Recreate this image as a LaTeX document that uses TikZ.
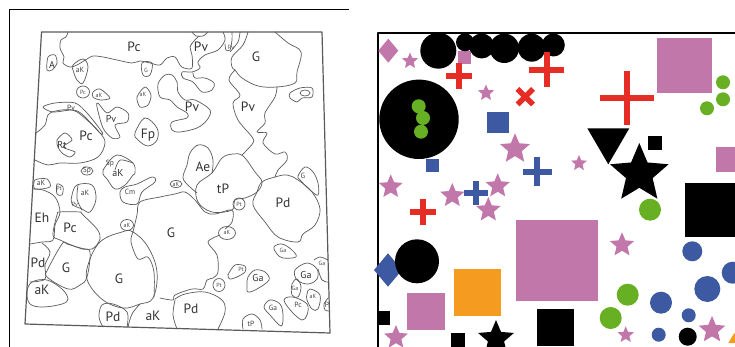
\documentclass[tikz,border=0pt]{standalone}
\usepackage{fontspec}
\setmainfont{PT Sans}
\usetikzlibrary{shapes.geometric}
\definecolor{pinkish}{HTML}{C277AB}
\definecolor{redcross}{HTML}{E52D25}
\definecolor{bluish}{HTML}{3D59A2}
\definecolor{greenish}{HTML}{68B023}
\definecolor{orangish}{HTML}{F59B1F}
\definecolor{mapline}{HTML}{5A5A5A}
\tikzset{
  every picture/.style={line join=round, line cap=round},
  outline/.style={draw=mapline, line width=0.7pt},
  mapframe/.style={draw=mapline, line width=1.2pt, line cap=butt},
  biglabel/.style={font=\fontsize{13.5}{14}\selectfont, text=black!80, inner sep=0pt},
  midlabel/.style={font=\fontsize{10}{11}\selectfont, text=black!80, inner sep=0pt},
  smalllabel/.style={font=\fontsize{7.5}{8}\selectfont, text=black!75, inner sep=0pt},
  tinylabel/.style={font=\fontsize{6}{7}\selectfont, text=black!70, inner sep=0pt},
  pinkstar/.style={star, star points=5, star point ratio=2.2, fill=pinkish, inner sep=0pt, outer sep=0pt},
  blackstar/.style={star, star points=5, star point ratio=2.2, fill=black, inner sep=0pt, outer sep=0pt},
  redbar/.style={draw=redcross, line width=6pt, line cap=butt},
  bluebar/.style={draw=bluish, line width=6pt, line cap=butt},
}
\begin{document}
\begin{tikzpicture}[x=1pt,y=-1pt]
\useasboundingbox (0,0) rectangle (735,347);
\draw[black,line width=1pt,line cap=butt](349,9.3)--(9.3,9.3)--(9.3,347);
\draw[mapframe](41.5,32)--(322,32)--(330,333)--(25,324)--cycle;
\draw[outline] plot[smooth,tension=0.55] coordinates {(68,32)(66,37)(61,40)(60,48)(64,57)(63,63)(70,67)(77,65)(87,59)(93,56)(103,57)(117,60)(132,63)(140,61)(150,63)(160,65)(167,58)(175,57)(180,65)(184,68)(192,68)(192,55)(190,47)(194,41)(199,36)};
\draw[outline] plot[smooth] coordinates {(192,32)(196,36)(203,36)(208,32)};
\draw[outline] plot[smooth,tension=0.55] coordinates {(223,32)(225,40)(218,50)(205,55)(198,62)(200,68)(192,72)(182,72)(183,78)(193,82)(202,92)(212,90)(214,83)(205,78)(195,78)(193,73)};
\draw[outline] plot[smooth] coordinates {(232,32)(232,40)(230,50)(226,50)(225,44)};
\draw[outline] plot[smooth] coordinates {(240,32)(238,42)(230,52)};
\draw[outline] plot[smooth,tension=0.6] coordinates {(248,32)(243,45)(232,57)(232,67)(235,70)(242,78)(258,86)(277,87)(295,83)(297,72)(301,52)(288,43)(275,32)};
\draw[outline] plot[smooth,tension=0.55] coordinates {(235,70)(229,80)(240,95)(233,103)(238,120)(252,137)(253,143)(242,155)};
\draw[outline] plot[smooth,tension=0.55] coordinates {(277,87)(275,97)(265,113)(265,123)(257,132)(267,133)(263,143)(275,154)(285,152)(287,160)(278,170)(275,177)};
\draw[outline] plot[smooth cycle,tension=0.6] coordinates {(212,173)(222,158)(233,154)(243,156)(255,172)(262,182)(257,192)(245,198)(235,200)(232,210)(212,212)(198,202)(197,185)};
\draw[outline] plot[smooth cycle,tension=0.6] coordinates {(257,192)(253,205)(265,222)(278,237)(298,242)(303,234)(315,225)(320,209)(312,192)(298,180)(287,175)(275,177)(262,182)};
\draw[outline] plot[smooth cycle,tension=0.6] coordinates {(298,176)(305,167)(313,172)(318,183)(318,195)(310,190)(300,180)};
\draw[outline] plot[smooth,tension=0.6] coordinates {(197,193)(190,187)(183,178)(187,165)(190,153)(198,145)(208,148)(213,160)(212,173)};
\draw[outline] plot[smooth,tension=0.55] coordinates {(133,232)(137,215)(140,202)(160,197)(175,194)(185,192)(195,200)(205,212)(215,214)(232,210)(232,222)(225,229)};
\draw[outline] plot[smooth,tension=0.55] coordinates {(220,235)(208,242)(217,255)(218,272)(213,278)(207,280)(203,289)(192,289)(175,295)(173,300)(160,298)};
\draw[outline] plot[smooth cycle,tension=0.65] coordinates {(133,232)(122,232)(100,242)(88,265)(88,282)(103,300)(123,308)(140,304)(153,298)(157,272)(148,247)};
\draw[outline] plot[smooth,tension=0.55] coordinates {(133,232)(131,242)(138,259)(148,257)(154,272)(154,297)};
\draw[outline] plot[smooth cycle,tension=0.6] coordinates {(67,244)(62,244)(48,269)(47,277)(68,289)(80,285)(87,277)(90,252)(82,249)};
\draw[outline] plot[smooth cycle,tension=0.55] coordinates {(57,215)(53,235)(60,240)(77,247)(92,249)(100,239)(97,229)(82,214)(80,212)(60,212)};
\draw[outline] plot[smooth,tension=0.6] coordinates {(33,189)(43,190)(55,197)(60,212)(55,225)(53,240)(42,242)(30,244)};
\draw[outline] plot[smooth,tension=0.6] coordinates {(42,243)(50,252)(45,265)(45,279)(30,282)};
\draw[outline] plot[smooth cycle,tension=0.6] coordinates {(32,282)(47,280)(62,289)(68,299)(62,304)(43,307)(30,304)(27,292)};
\draw[outline] plot[smooth,tension=0.6] coordinates {(127,327)(127,312)(113,304)(102,305)(99,317)(103,327)};
\draw[outline] plot[smooth,tension=0.6] coordinates {(128,327)(132,314)(140,304)};
\draw[outline] plot[smooth,tension=0.6] coordinates {(177,329)(173,315)(175,300)};
\draw[outline] plot[smooth,tension=0.6] coordinates {(175,299)(185,294)(205,292)(222,300)(225,312)(218,329)};
\draw[outline] plot[smooth cycle] coordinates {(35,180)(47,179)(50,187)(35,189)};
\draw[outline] plot[smooth cycle] coordinates {(57,184)(63,187)(62,195)(57,194)};
\draw[outline] plot[smooth cycle,tension=0.6] coordinates {(77,185)(92,185)(96,199)(90,212)(82,209)(72,204)(72,195)};
\draw[outline] plot[smooth] coordinates {(78,185)(77,199)(82,210)};
\draw[outline] plot[smooth cycle,tension=0.6] coordinates {(105,167)(117,155)(133,163)(135,173)(133,175)(125,185)(115,189)(107,179)(103,174)};
\draw[outline] plot[smooth] coordinates {(115,170)(120,160)(133,163)};
\draw[outline] plot[smooth cycle,tension=0.6] coordinates {(125,187)(120,192)(123,202)(137,204)(142,192)(155,182)(152,177)(137,184)};
\draw[outline] (176,184) ellipse (6 and 3.5);
\draw[outline] (127,225) ellipse (6.5 and 5.5);
\draw[outline] plot[smooth cycle] coordinates {(48,57)(55,55)(57,63)(52,70)(47,70)};
\draw[outline] plot[smooth cycle,tension=0.6] coordinates {(73,65)(83,59)(88,67)(83,83)(77,80)(73,70)};
\draw[outline] plot[smooth cycle,tension=0.6] coordinates {(142,63)(152,63)(150,75)(143,75)};
\draw[outline] (83,92) ellipse (6.5 and 6);
\draw[outline] plot[smooth cycle] coordinates {(93,92)(100,89)(110,98)(100,100)(93,97)};
\draw[outline] plot[smooth cycle] coordinates {(137,97)(145,87)(151,95)(148,105)(140,107)};
\draw[outline] plot[smooth cycle,tension=0.5] coordinates {(43,107)(55,103)(75,103)(87,113)(102,132)(100,133)(83,115)(73,110)(53,112)};
\draw[outline] plot[smooth cycle,tension=0.5] coordinates {(98,103)(107,113)(117,107)(128,113)(127,122)(115,125)(120,137)(112,138)(103,128)(97,107)};
\draw[outline] plot[smooth,tension=0.6] coordinates {(36,133)(45,125)(50,113)(72,110)(87,120)(100,133)(105,143)(98,157)(80,163)(60,163)(48,165)(35,160)};
\draw[outline] plot[smooth cycle] coordinates {(57,140)(65,133)(72,140)(63,147)(75,152)(70,157)(62,153)(58,147)};
\draw[outline] plot[smooth cycle,tension=0.6] coordinates {(135,133)(145,118)(157,128)(157,140)(148,146)(138,140)};
\draw[outline] plot[smooth cycle,tension=0.55] coordinates {(172,75)(165,75)(158,84)(160,97)(170,100)(177,107)(187,113)(187,118)(172,122)(172,130)(180,132)(197,128)(207,120)(210,110)(195,100)(185,100)(178,92)(177,82)};
\draw[outline] plot[smooth cycle] coordinates {(290,93)(300,88)(312,88)(312,97)(302,98)(297,102)(290,98)};
\draw[outline] (305,93) ellipse (5 and 3);
\draw[outline] (239,204) ellipse (6 and 6);
\draw[outline] (227,233) ellipse (8.5 and 6.5);
\draw[outline] plot[smooth cycle] coordinates {(228,275)(235,265)(245,266)(245,272)(237,277)(230,279)};
\draw[outline] (219,285) ellipse (6 and 6.5);
\draw[outline] plot[smooth cycle,tension=0.6] coordinates {(274,247)(282,244)(292,250)(296,257)(283,258)(277,254)};
\draw[outline] plot[smooth cycle,tension=0.6] coordinates {(248,277)(255,270)(265,272)(269,280)(257,289)(248,292)(247,285)};
\draw[outline] plot[smooth cycle,tension=0.6] coordinates {(295,270)(307,263)(317,269)(317,279)(308,284)(297,280)};
\draw[outline] plot[smooth,tension=0.6] coordinates {(314,260)(320,257)(328,260)};
\draw[outline] plot[smooth,tension=0.6] coordinates {(318,269)(322,280)(328,282)};
\draw[outline] plot[smooth cycle,tension=0.6] coordinates {(292,284)(297,279)(301,287)(298,297)(292,295)};
\draw[outline] plot[smooth cycle,tension=0.6] coordinates {(307,294)(310,289)(320,295)(318,309)(312,309)(307,300)};
\draw[outline] plot[smooth cycle,tension=0.6] coordinates {(284,300)(293,297)(307,304)(307,315)(302,320)(292,312)};
\draw[outline] plot[smooth cycle,tension=0.6] coordinates {(264,307)(270,300)(280,304)(283,315)(281,326)(270,315)};
\draw[outline] plot[smooth] coordinates {(328,298)(324,304)(325,310)(329,311)};
\draw[outline] plot[smooth,tension=0.6] coordinates {(243,329)(243,319)(252,314)(260,320)(262,329)};
\draw[outline] (87,171) ellipse (6 and 4);
\node[biglabel] (pc1) at (134,47) {Pc};
\node[biglabel] (pv1) at (201,47) {Pv};
\node[tinylabel] (pv2) at (231,47) {Pv};
\node[biglabel] (g1) at (256,57) {G};
\node[midlabel] (a1) at (52,65) {A};
\node[smalllabel] (ak1) at (80,70) {aK};
\node[tinylabel] (g2) at (146,70) {G};
\node[tinylabel] (pc2) at (83,92) {Pc};
\node[tinylabel] (ak2) at (99,95) {aK};
\node[tinylabel] (ak3) at (143,94) {aK};
\node[smalllabel] (pv3) at (71,108) {Pv};
\node[midlabel] (pv4) at (111,119) {Pv};
\node[biglabel] (pv5) at (192,107) {Pv};
\node[biglabel] (pv6) at (248,107) {Pv};
\node[biglabel] (fp1) at (148,135) {Fp};
\node[biglabel] (pc3) at (86,136) {Pc};
\node[midlabel] (rt1) at (62,145) {Rt};
\node[smalllabel] (sp1) at (87,171) {Sp};
\node[smalllabel] (sp2) at (110,164) {Sp};
\node[midlabel] (ak4) at (118,173) {aK};
\node[biglabel] (ae1) at (203,167) {Ae};
\node[biglabel] (tp1) at (223,189) {tP};
\node[smalllabel] (ak5) at (41,183) {aK};
\node[tinylabel] (pt1) at (59,188) {Pt};
\node[smalllabel] (ak6) at (85,193) {aK};
\node[tinylabel] (pv7) at (75,204) {Pv};
\node[smalllabel] (cm1) at (130,192) {Cm};
\node[tinylabel] (ak7) at (176,184) {aK};
\node[biglabel] (eh1) at (42,218) {Eh};
\node[biglabel] (pc4) at (70,228) {Pc};
\node[tinylabel] (ak8) at (127,225) {aK};
\node[biglabel] (g3) at (171,233) {G};
\node[tinylabel] (pt2) at (239,204) {Pt};
\node[biglabel] (pd1) at (283,203) {Pd};
\node[smalllabel] (g4) at (303,176) {G};
\node[tinylabel] (ak9) at (227,232) {aK};
\node[tinylabel] (ga1) at (283,250) {Ga};
\node[tinylabel] (pt3) at (241,269) {Pt};
\node[tinylabel] (pt4) at (219,285) {Pt};
\node[midlabel] (ga2) at (258,278) {Ga};
\node[midlabel] (ga3) at (306,275) {Ga};
\node[tinylabel] (ga4) at (322,263) {Ga};
\node[tinylabel] (ga5) at (295,288) {Ga};
\node[tinylabel] (ak10) at (313,296) {aK};
\node[smalllabel] (pc5) at (298,305) {Pc};
\node[smalllabel] (ga6) at (273,308) {Ga};
\node[smalllabel] (p1) at (327,305) {P};
\node[smalllabel] (tp2) at (251,324) {tP};
\node[biglabel] (pd2) at (38,263) {Pd};
\node[biglabel] (g5) at (66,268) {G};
\node[biglabel] (ak11) at (42,290) {aK};
\node[biglabel] (g6) at (119,279) {G};
\node[biglabel] (pd3) at (113,317) {Pd};
\node[biglabel] (ak12) at (153,316) {aK};
\node[biglabel] (pd4) at (191,309) {Pd};
\fill[pinkish](458,50.7) rectangle (471,64);
\draw[black,line width=2pt,line cap=butt](735,33.5)--(377.5,33.5)--(377.5,347);
\fill[pinkish](388.3,38.7)--(398.3,50.7)--(388.3,62.7)--(378.3,50.7)--cycle;
\node[pinkstar,minimum size=17pt] (star1) at (410,61) {};
\fill[black](438.3,50.7) circle(18);
\fill[black](465,42.3) circle(9);
\fill[black](481.7,46) circle(12.5);
\fill[black](504.3,48.3) circle(14.7);
\fill[black](531.7,47.7) circle(14);
\fill[black](553.3,45) circle(11.5);
\draw[redbar](446,76)--(472,76);
\draw[redbar](459,63)--(459,89);
\draw[redbar](529,70)--(564,70);
\draw[redbar](547,52)--(547,87);
\draw[redbar](600,98)--(654,98);
\draw[redbar](627,71)--(627,125);
\draw[redbar,line width=5.5pt](517.5,88.9)--(533,104.5);
\draw[redbar,line width=5.5pt](517.5,104.5)--(533,88.9);
\node[pinkstar,minimum size=17pt] (star2) at (486,93) {};
\fill[bluish](487,112) rectangle (509,133);
\fill[black](419,119.3) circle(39.7);
\fill[greenish](418.7,106.3) circle(7);
\fill[greenish](423,118) circle(7);
\fill[greenish](421,131.7) circle(7);
\fill[bluish](426,159) rectangle (439,172);
\node[pinkstar,minimum size=31.4pt] (star3) at (515,149) {};
\draw[bluebar](523,172)--(552,172);
\draw[bluebar](537,157)--(537,186);
\node[pinkstar,minimum size=25pt] (star4) at (390.7,186.8) {};
\node[pinkstar,minimum size=25.4pt] (star5) at (452.3,195.7) {};
\node[pinkstar,minimum size=25.4pt] (star6) at (497.7,186) {};
\node[pinkstar,minimum size=25.8pt] (star7) at (488.3,210) {};
\draw[bluebar](464,193)--(488,193);
\draw[bluebar](476,181)--(476,205);
\node[pinkstar,minimum size=16.6pt] (star8) at (579,163.3) {};
\draw[redbar](410,212)--(436,212);
\draw[redbar](423,199)--(423,225);
\fill[pinkish](516,220) rectangle (598,301);
\fill[bluish](388,253.3)--(402,270)--(388,286.7)--(374,270)--cycle;
\fill[black](417,261.3) circle(22);
\fill[pinkish](407,293) rectangle (445,330);
\fill[orangish](454,269) rectangle (501,316);
\fill[black](377,311) rectangle (390,325);
\node[pinkstar,minimum size=25pt] (star9) at (396,337.5) {};
\fill[black](451,333) rectangle (465,347);
\node[blackstar,minimum size=37.6pt] (star10) at (496,338.8) {};
\fill[black](537,309) rectangle (574,346);
\fill[pinkish](657,38) rectangle (712,93);
\fill[greenish](723,82.3) circle(7);
\fill[greenish](723,99.3) circle(7);
\fill[greenish](707,108.3) circle(7);
\fill[black](587.3,128.3)--(629.3,128.3)--(608.3,164.3)--cycle;
\fill[black](648,136) rectangle (662,150);
\node[blackstar,minimum size=61.6pt] (star11) at (639.3,173.8) {};
\fill[pinkish](716,147) rectangle (735,172);
\fill[black](685,183) rectangle (735,237);
\fill[greenish](650,209.7) circle(11);
\node[pinkstar,minimum size=25.4pt] (star12) at (622,245) {};
\fill[bluish](692.3,251.3) circle(10);
\fill[bluish](732.7,272.7) circle(11);
\fill[bluish](707.3,289) circle(13);
\fill[bluish](661,302.7) circle(11);
\fill[bluish](688.7,315.3) circle(7);
\fill[bluish](658.7,334.7) circle(7);
\fill[greenish](627.7,294.7) circle(11);
\fill[greenish](610.7,318) circle(11);
\node[pinkstar,minimum size=17.2pt] (star13) at (625.7,335) {};
\fill[black](687.7,336.7) circle(9);
\node[pinkstar,minimum size=28pt] (star14) at (712,330) {};
\fill[orangish](728.3,343)--(734.3,333)--(735,334)--(735,343)--cycle;
\end{tikzpicture}
\end{document}
